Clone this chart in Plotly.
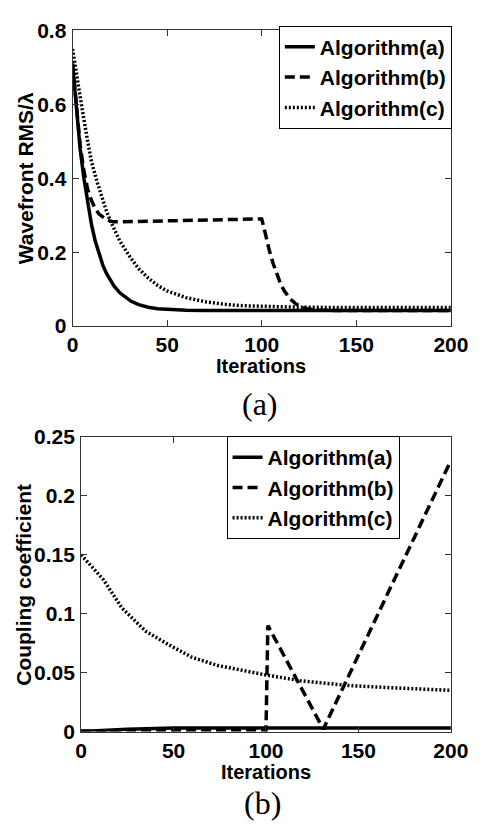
import plotly.graph_objects as go

# ---------------- data: panel (a) Wavefront RMS / lambda ----------------
iter_a = [0, 2, 4, 6, 8, 10, 12, 14, 16, 18, 20, 22, 25, 28, 31, 35, 40, 45, 50, 60, 70, 80, 100, 150, 200]
rms_a = [0.71, 0.585, 0.48, 0.40, 0.33, 0.275, 0.23, 0.195, 0.165, 0.142, 0.123, 0.108, 0.09, 0.077,
         0.067, 0.058, 0.051, 0.047, 0.045, 0.043, 0.042, 0.042, 0.042, 0.042, 0.042]

iter_b = [0, 2, 4, 6, 8, 10, 12, 14, 16, 18, 20, 22, 25, 40, 60, 80, 100, 101, 102, 104, 106, 108,
          110, 112, 115, 118, 121, 124, 127, 130, 140, 160, 200]
rms_b = [0.71, 0.59, 0.49, 0.42, 0.37, 0.34, 0.318, 0.303, 0.294, 0.288, 0.284, 0.282, 0.282, 0.284,
         0.286, 0.288, 0.29, 0.27, 0.245, 0.205, 0.17, 0.14, 0.114, 0.095, 0.074, 0.06, 0.052, 0.047,
         0.044, 0.043, 0.042, 0.042, 0.042]

iter_c = [0, 3, 5, 8, 10, 13, 15, 18, 20, 25, 30, 35, 40, 45, 50, 55, 60, 70, 80, 90, 100, 120, 150, 200]
rms_c = [0.75, 0.65, 0.59, 0.5, 0.445, 0.39, 0.355, 0.31, 0.285, 0.23, 0.19, 0.155, 0.13, 0.11, 0.095,
         0.085, 0.077, 0.066, 0.059, 0.055, 0.053, 0.051, 0.05, 0.05]

# ---------------- data: panel (b) Coupling coefficient ----------------
citer_a = [0, 10, 25, 50, 100, 150, 200]
coup_a = [0.0, 0.001, 0.002, 0.003, 0.003, 0.003, 0.003]

citer_b = [0, 50, 100, 101, 131, 200]
coup_b = [0.0005, 0.001, 0.001, 0.09, 0.002, 0.23]

citer_c = [0, 5, 12, 22, 35, 47, 60, 74, 86, 100, 119, 145, 170, 200]
coup_c = [0.15, 0.141, 0.129, 0.105, 0.085, 0.074, 0.063, 0.056, 0.052, 0.048, 0.043, 0.039, 0.037, 0.035]

names = ["Algorithm(a)", "Algorithm(b)", "Algorithm(c)"]
x_ticks = [0, 50, 100, 150, 200]
y_ticks_a = [0, 0.2, 0.4, 0.6, 0.8]
y_ticks_b = [0, 0.05, 0.1, 0.15, 0.2, 0.25]

W, H = 486, 832
SANS = "Liberation Sans, Arial, sans-serif"
SERIF = "Liberation Serif, Times New Roman, serif"
FS = 21

styles = [dict(color="black", width=3.5, dash="solid"),
          dict(color="black", width=3.5, dash="10px,5px"),
          dict(color="black", width=3.5, dash="2px,2px")]

fig = go.Figure()
for xs, ys, nm, st in zip([iter_a, iter_b, iter_c], [rms_a, rms_b, rms_c], names, styles):
    fig.add_trace(go.Scatter(x=xs, y=ys, name=nm, mode="lines", line=st,
                             xaxis="x", yaxis="y", legend="legend"))
for xs, ys, nm, st in zip([citer_a, citer_b, citer_c], [coup_a, coup_b, coup_c], names, styles):
    fig.add_trace(go.Scatter(x=xs, y=ys, name=nm, mode="lines", line=st,
                             xaxis="x2", yaxis="y2", legend="legend2"))

axis_common = dict(showline=True, linecolor="#333", linewidth=1, mirror="ticks",
                   ticks="inside", ticklen=6, tickcolor="#333", tickwidth=1,
                   showgrid=False, zeroline=False,
                   tickfont=dict(family=SANS, size=FS, color="black", weight="bold"))

legend_common = dict(bordercolor="black", borderwidth=1, bgcolor="white",
                     font=dict(family=SANS, size=FS, color="black", weight="bold"),
                     tracegroupgap=0, yanchor="middle", xanchor="right")

fig.update_layout(
    width=W, height=H,
    margin=dict(l=0, r=0, t=0, b=0),
    paper_bgcolor="white", plot_bgcolor="white",
    xaxis=dict(domain=[70 / W, 468 / W], range=[0, 200], tickvals=x_ticks, anchor="y", **axis_common),
    yaxis=dict(domain=[1 - 323 / H, 1 - 19 / H], range=[0, 0.8], tickvals=y_ticks_a, anchor="x",
               ticklabelstandoff=1, **axis_common),
    xaxis2=dict(domain=[79 / W, 468 / W], range=[0, 200], tickvals=x_ticks, anchor="y2", **axis_common),
    yaxis2=dict(domain=[1 - 740 / H, 1 - 437 / H], range=[0, 0.25], tickvals=y_ticks_b, anchor="x2",
                ticklabelstandoff=1, **axis_common),
    legend=dict(x=469 / W, y=1 - 67 / H, **legend_common),
    legend2=dict(x=414 / W, y=1 - 489 / H, **legend_common),
    showlegend=True,
)

def label(text, x, y, angle=0, family=SANS, size=FS, weight="bold"):
    fig.add_annotation(text=text, x=x / W, y=1 - y / H, xref="paper", yref="paper",
                       xanchor="center", yanchor="middle", showarrow=False, textangle=angle,
                       font=dict(family=family, size=size, color="black", weight=weight))

label("Wavefront RMS/λ", 20, 171, angle=-90)
label("Iterations", 268, 364, size=20)
label("(a)", 267, 403, family=SERIF, size=32, weight="normal")
label("Coupling coefficient", 19, 589, angle=-90)
label("Iterations", 273, 782, size=20)
label("(b)", 270, 814, family=SERIF, size=32, weight="normal")

fig.write_html("out.html")
